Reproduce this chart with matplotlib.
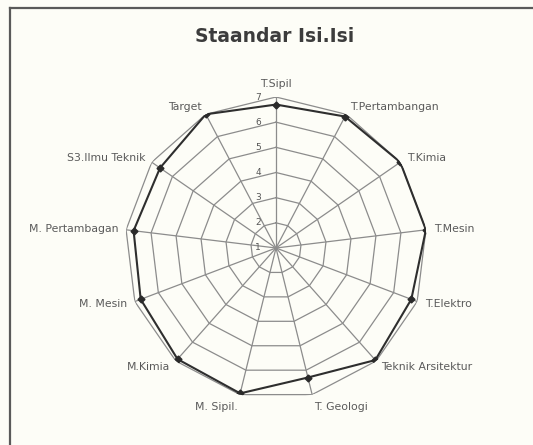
import numpy as np
import matplotlib
matplotlib.use("Agg")
import matplotlib.pyplot as plt
from matplotlib.lines import Line2D

categories = ["T.Sipil", "T.Pertambangan", "T.Kimia", "T.Mesin", "T.Elektro",
              "Teknik Arsitektur", "T. Geologi", "M. Sipil.", "M.Kimia", "M. Mesin",
              "M. Pertambagan", "S3.Ilmu Teknik", "Target"]
values = [6.7, 6.9, 7.0, 7.0, 6.75, 6.95, 6.3, 6.95, 6.9, 6.75, 6.7, 6.6, 7.0]
rticks = [1, 2, 3, 4, 5, 6, 7]
title = "Staandar Isi.Isi"

W, H = 533, 445
fig = plt.figure(figsize=(W / 100, H / 100), dpi=100)
fig.patch.set_facecolor("#fdfdf7")

# frame (top and left edges visible)
fig.add_artist(Line2D([10 / W, 1.0], [1 - 8 / H, 1 - 8 / H], transform=fig.transFigure,
                      color="#5a5a5a", lw=1.6))
fig.add_artist(Line2D([10 / W, 10 / W], [0.0, 1 - 8 / H], transform=fig.transFigure,
                      color="#5a5a5a", lw=1.6))

fig.text(275 / W, 1 - 36 / H, title, ha="center", va="center", fontsize=13.5,
         fontweight="bold", color="#3c3c3c")

cx, cy, R = 276, 248, 151
ax = fig.add_axes([(cx - R) / W, (H - cy - R) / H, 2 * R / W, 2 * R / H], projection="polar")
ax.set_theta_offset(np.pi / 2)
ax.set_theta_direction(-1)
ax.set_ylim(rticks[0], rticks[-1])
ax.grid(False)
ax.set_xticks([])
ax.set_yticks([])
ax.spines["polar"].set_visible(False)
ax.patch.set_visible(False)

n = len(categories)
theta = np.arange(n) * 2 * np.pi / n
theta_c = np.append(theta, theta[0])

grid_col = "#8c8c8c"
for r in rticks[1:]:
    ax.plot(theta_c, [r] * (n + 1), color=grid_col, lw=0.9, zorder=1)
for t in theta:
    ax.plot([t, t], [rticks[0], rticks[-1]], color=grid_col, lw=0.9, zorder=1)

vals_c = np.append(values, values[0])
ax.plot(theta_c, vals_c, color="#2e2e2e", lw=1.5, zorder=3)
ax.plot(theta, values, linestyle="none", marker="D", markersize=3.5, color="#2a2a2a", zorder=4)

for r in rticks:
    ax.annotate(str(r), xy=(0, r), xytext=(-18, 0), textcoords="offset pixels",
                ha="center", va="center", fontsize=6.5, color="#555555")

for t, lab in zip(theta, categories):
    s, c = np.sin(t), np.cos(t)
    ha = "left" if s > 0.1 else ("right" if s < -0.1 else "center")
    va = "bottom" if c > 0.9 else ("top" if c < -0.9 else "center")
    ax.annotate(lab, xy=(t, rticks[-1]), xytext=(8 * s, 8 * c), textcoords="offset pixels",
                ha=ha, va=va, fontsize=7.8, color="#5a5a5a")

fig.savefig("out.png", dpi=100, facecolor=fig.get_facecolor())
